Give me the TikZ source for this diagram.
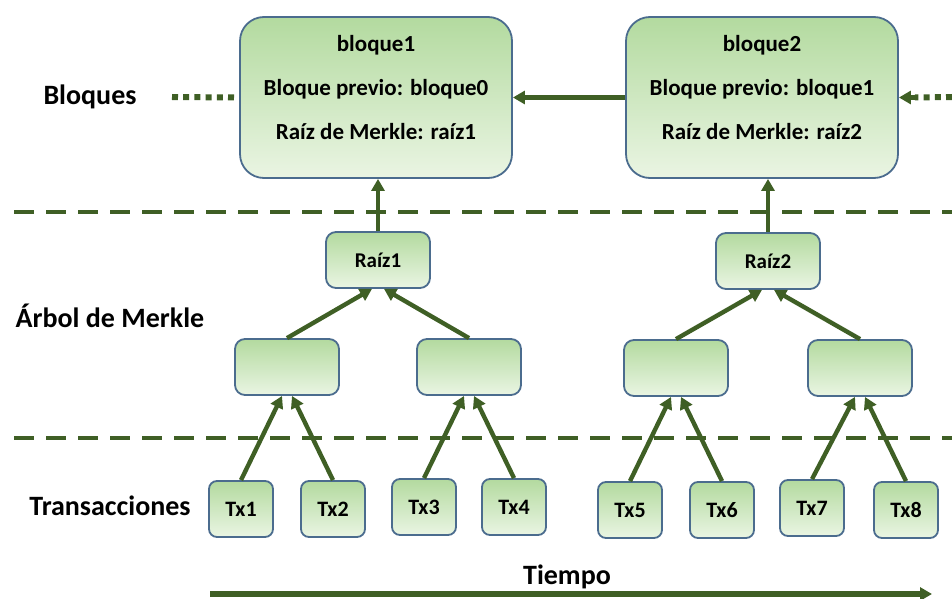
\documentclass[tikz,border=0pt]{standalone}
\usepackage{fontspec}
\setmainfont{Carlito}
\usetikzlibrary{arrows.meta}
\definecolor{lnGreen}{HTML}{3F5F25}
\definecolor{bxEdge}{HTML}{4B6C8E}
\definecolor{bxTop}{HTML}{B3DA9F}
\definecolor{bxBot}{HTML}{EAF5E3}
\tikzset{
  blk/.style={draw=bxEdge, line width=0.9pt, top color=bxTop, bottom color=bxBot,
    rounded corners=12pt, minimum width=136pt, minimum height=80.5pt, align=center,
    font=\fontsize{11.5}{22}\selectfont\bfseries},
  hsh/.style={draw=bxEdge, line width=0.9pt, top color=bxTop, bottom color=bxBot,
    rounded corners=5pt, minimum width=52pt, minimum height=28pt,
    font=\fontsize{10.5}{12}\selectfont\bfseries},
  txb/.style={hsh, rounded corners=4pt, minimum width=32pt, font=\fontsize{11}{12}\selectfont\bfseries},
  lbl/.style={font=\fontsize{14}{16}\selectfont\bfseries},
  arr/.style={draw=lnGreen, line width=2.2pt, -{Triangle[length=6pt,width=6.5pt]}},
  sep/.style={draw=lnGreen, line width=2pt, dash pattern=on 10pt off 6pt},
  dots/.style={draw=lnGreen, line width=3pt, dash pattern=on 3pt off 2.6pt}
}
\begin{document}
\begin{tikzpicture}[x=0.5pt,y=-0.5pt]
	\useasboundingbox (0,0) rectangle (952,599);
	% bloques
	\node [blk] (blq1) at (376,97.5) {bloque1\\Bloque previo: bloque0\\Raíz de Merkle: raíz1\rule[-10pt]{0pt}{10pt}};
	\node [blk] (blq2) at (762,97.5) {bloque2\\Bloque previo: bloque1\\Raíz de Merkle: raíz2\rule[-10pt]{0pt}{10pt}};
	\node [lbl] (lblBlq) at (90,97) {Bloques};
	\coordinate (dotL) at (172,97);
	\coordinate (dotR) at (952,97);
	\draw [dots] (dotL) -- (blq1.west);
	\draw [arr] (blq2.west) -- (blq1.east);
	\draw [dots] (dotR) -- ([xshift=8pt]blq2.east);
	\draw [arr] ([xshift=8.5pt]blq2.east) -- (blq2.east);
	% separadores
	\coordinate (sepA1) at (14,212);
	\coordinate (sepA2) at (952,212);
	\coordinate (sepB1) at (14,438);
	\coordinate (sepB2) at (952,438);
	\draw [sep] (sepA1) -- (sepA2);
	\draw [sep] (sepB1) -- (sepB2);
	% arbol de Merkle
	\node [lbl] (lblArb) at (110,316) {Árbol de Merkle};
	\node [hsh] (r1) at (378,260) {Raíz1};
	\node [hsh] (r2) at (768,261) {Raíz2};
	\node [hsh] (m1) at (287,367) {};
	\node [hsh] (m2) at (469,367) {};
	\node [hsh] (m3) at (676,368) {};
	\node [hsh] (m4) at (860,368) {};
	\draw [arr] (r1.north) -- (r1.north |- blq1.south);
	\draw [arr] (r2.north) -- (r2.north |- blq2.south);
	\draw [arr] (m1.north) -- ([xshift=-3pt]r1.south);
	\draw [arr] (m2.north) -- ([xshift=3pt]r1.south);
	\draw [arr] (m3.north) -- ([xshift=-3pt]r2.south);
	\draw [arr] (m4.north) -- ([xshift=3pt]r2.south);
	% transacciones
	\node [lbl] (lblTx) at (110,506) {Transacciones};
	\node [txb] (tx1) at (241,509) {Tx1};
	\node [txb] (tx2) at (333,509) {Tx2};
	\node [txb] (tx3) at (424,507) {Tx3};
	\node [txb] (tx4) at (514,507) {Tx4};
	\node [txb] (tx5) at (630,510) {Tx5};
	\node [txb] (tx6) at (722,510) {Tx6};
	\node [txb] (tx7) at (812,508) {Tx7};
	\node [txb] (tx8) at (906,510) {Tx8};
	\draw [arr] (tx1.north) -- ([xshift=-2.5pt]m1.south);
	\draw [arr] (tx2.north) -- ([xshift=2.5pt]m1.south);
	\draw [arr] (tx3.north) -- ([xshift=-2.5pt]m2.south);
	\draw [arr] (tx4.north) -- ([xshift=2.5pt]m2.south);
	\draw [arr] (tx5.north) -- ([xshift=-2.5pt]m3.south);
	\draw [arr] (tx6.north) -- ([xshift=2.5pt]m3.south);
	\draw [arr] (tx7.north) -- ([xshift=-2.5pt]m4.south);
	\draw [arr] (tx8.north) -- ([xshift=2.5pt]m4.south);
	% tiempo
	\node [lbl] (lblTmp) at (567,577) {Tiempo};
	\coordinate (tA) at (210,594);
	\coordinate (tB) at (932,594);
	\draw [arr, line width=2.6pt] (tA) -- (tB);
\end{tikzpicture}
\end{document}
